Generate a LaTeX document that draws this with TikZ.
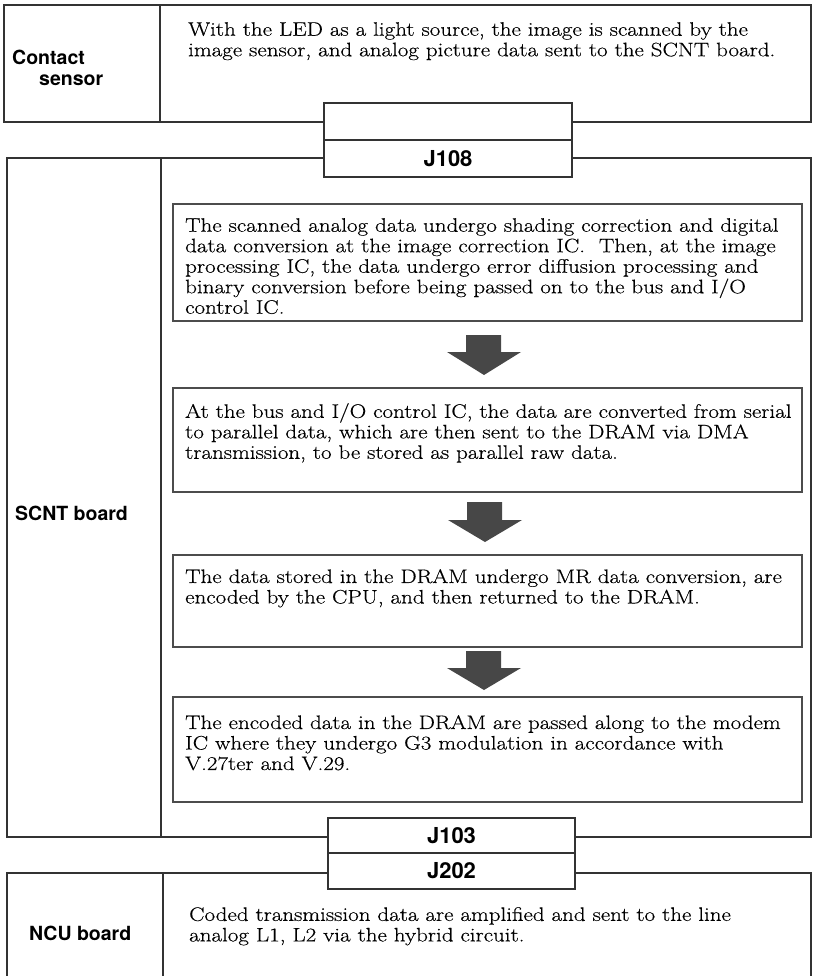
\documentclass[tikz,border=0pt]{standalone}
\usepackage{fontspec}
\setmainfont{Latin Modern Roman}[FakeStretch=1.18, FakeBold=0.4]
\newfontfamily\lblfont{TeX Gyre Heros}
\tikzset{
  frame/.style={draw=black!80, line width=1.3pt},
  inbox/.style={draw=black!70, line width=1.1pt},
  body/.style={font=\fontsize{19.5}{20.5}\selectfont, align=left, anchor=north west, inner sep=0pt},
  lbl/.style={font=\lblfont\bfseries\fontsize{19.5}{21}\selectfont, inner sep=0pt, align=left},
  conn/.style={draw=black!80, fill=white, line width=1.3pt, inner sep=0pt,
    font=\lblfont\bfseries\fontsize{22}{24}\selectfont},
  bigarrow/.style={fill=black!72, draw=none}
}
\begin{document}
\begin{tikzpicture}[x=1pt,y=-1pt]
\useasboundingbox (0,0) rectangle (812,976);
% outer frames
\draw[frame] (4,5) rectangle (811,122);
\draw[frame] (160,5) -- (160,122);
\draw[frame] (7,158) rectangle (811,837);
\draw[frame] (161,158) -- (161,837);
\draw[frame] (7,990) -- (7,873) -- (811,873) -- (811,990);
\draw[frame] (163,873) -- (163,990);
% connectors
\node[conn, minimum width=248pt, minimum height=37pt] (c1a) at (448,121.5) {};
\node[conn, minimum width=248pt, minimum height=37pt] (c1b) at (448,158.5) {J108};
\node[conn, minimum width=247pt, minimum height=35pt] (c2a) at (451.5,835.5) {J103};
\node[conn, minimum width=247pt, minimum height=36pt] (c2b) at (451.5,871) {J202};
% labels
\node[lbl, anchor=west] (cs) at (12,68) {Contact\\\hspace*{27pt}sensor};
\node[lbl, anchor=west] (scnt) at (15,513) {SCNT board};
\node[lbl, anchor=west] (ncu) at (29,933) {NCU board};
% top text
\node[body] (t0) at (188,22) {With the LED as a light source, the image is scanned by the\\
image sensor, and analog picture data sent to the SCNT board.};
% inner boxes
\draw[inbox] (173,204) rectangle (802,321);
\draw[inbox] (173,388) rectangle (802,492);
\draw[inbox] (173,555) rectangle (802,647);
\draw[inbox] (173,697) rectangle (802,802);
\node[body] (t1) at (185,218) {The scanned analog data undergo shading correction and digital\\
data conversion at the image correction IC.\ \ Then, at the image\\
processing IC, the data undergo error diffusion processing and\\
binary conversion before being passed on to the bus and I/O\\
control IC.};
\node[body] (t2) at (185,403) {At the bus and I/O control IC, the data are converted from serial\\
to parallel data, which are then sent to the DRAM via DMA\\
transmission, to be stored as parallel raw data.};
\node[body] (t3) at (185,569) {The data stored in the DRAM undergo MR data conversion, are\\
encoded by the CPU, and then returned to the DRAM.};
\node[body] (t4) at (185,715) {The encoded data in the DRAM are passed along to the modem\\
IC where they undergo G3 modulation in accordance with\\
V.27ter and V.29.};
\node[body] (t5) at (189,907) {Coded transmission data are amplified and sent to the line\\
analog L1, L2 via the hybrid circuit.};
% arrows
\fill[bigarrow] (466,335) -- (501,335) -- (501,352) -- (521,352) -- (484,375) -- (447,352) -- (466,352) -- cycle;
\fill[bigarrow] (467,502) -- (502,502) -- (502,520) -- (522,520) -- (485,542) -- (448,520) -- (467,520) -- cycle;
\fill[bigarrow] (466,651) -- (501,651) -- (501,668) -- (521,668) -- (484,690) -- (447,668) -- (466,668) -- cycle;
\end{tikzpicture}
\end{document}
